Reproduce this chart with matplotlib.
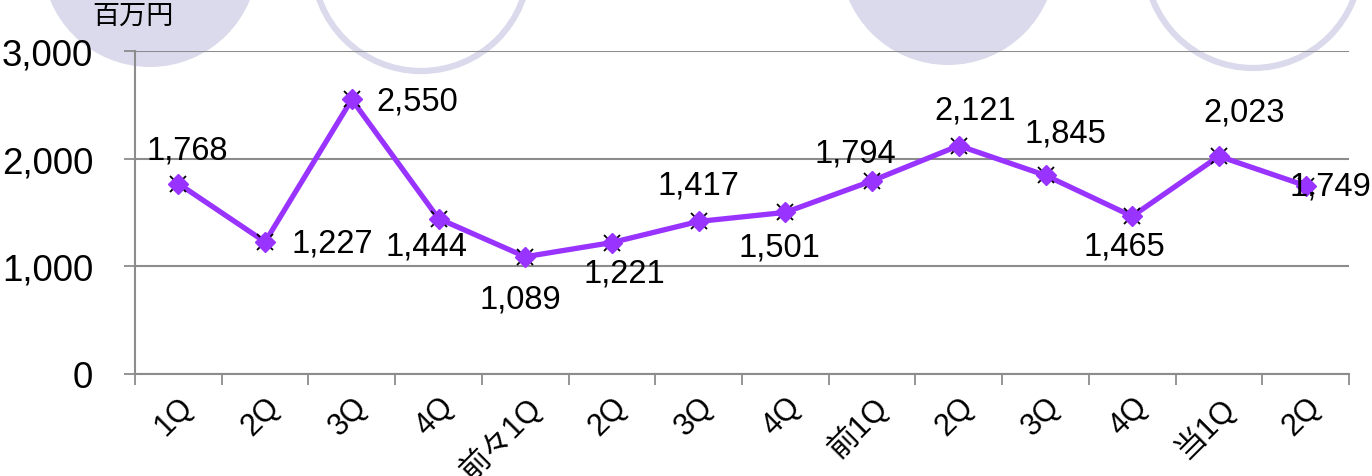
import matplotlib
matplotlib.use("Agg")
import matplotlib.pyplot as plt
from matplotlib.patches import Ellipse
from matplotlib.ticker import FuncFormatter

plt.rcParams["font.family"] = ["Liberation Sans", "Noto Sans CJK JP", "DejaVu Sans"]

# quarterly figures, million yen
quarters = ["1Q", "2Q", "3Q", "4Q", "前々1Q", "2Q", "3Q", "4Q",
            "前1Q", "2Q", "3Q", "4Q", "当1Q", "2Q"]
values = [1768, 1227, 2550, 1444, 1089, 1221, 1417, 1501,
          1794, 2121, 1845, 1465, 2023, 1749]

# label offsets from each point, in pixels
label_offsets = [(9, 34), (67, -1), (65, -2), (-12, -27), (-5, -42),
                 (12, -30), (0, 36), (-6, -35), (-17, 28), (16, 36),
                 (20, 42), (-8, -30), (25, 44), (25, 0)]

W, H = 1372, 477
purple = "#9933ff"
lavender = "#dbd9ec"
grid_gray = "#8c8c8c"

fig = plt.figure(figsize=(W / 100, H / 100), dpi=100)

# decorative circles along the top edge
for cx, cy, filled in [(150, -40, True), (421, -36, False),
                       (948, -42, True), (1253, -39, False)]:
    r = 108
    e = Ellipse((cx / W, 1 - cy / H), 2 * r / W, 2 * r / H,
                transform=fig.transFigure, zorder=0,
                facecolor=lavender if filled else "none",
                edgecolor=lavender, linewidth=0 if filled else 4.5)
    fig.add_artist(e)

ax = fig.add_axes([135 / W, 1 - 375 / H, (1349 - 135) / W, (375 - 52) / H])
ax.patch.set_alpha(0)

x = list(range(len(values)))
ax.plot(x, values, color=purple, linewidth=3.8, zorder=3)
ax.plot(x, values, linestyle="none", marker="x", markersize=12,
        markeredgecolor="black", markeredgewidth=1.3, zorder=4)
ax.plot(x, values, linestyle="none", marker="D", markersize=10,
        markerfacecolor=purple, markeredgecolor=purple, zorder=5)

for xi, v, (dx, dy) in zip(x, values, label_offsets):
    ax.annotate(f"{v:,}", (xi, v), xytext=(dx, dy), textcoords="offset pixels",
                ha="center", va="center", fontsize=23.5, color="black", zorder=6,
                annotation_clip=False)

ax.set_xlim(-0.5, len(values) - 0.5)
ax.set_ylim(0, 3000)
ax.set_yticks([0, 1000, 2000, 3000])
ax.yaxis.set_major_formatter(FuncFormatter(lambda v, _: f"{int(v):,}"))
ax.tick_params(axis="y", direction="out", length=8, width=1.3, color=grid_gray,
               labelsize=26.5, pad=22)
ax.grid(axis="y", color=grid_gray, linewidth=1.5)
ax.set_axisbelow(True)

ax.set_xticks(x)
ax.set_xticklabels(quarters, rotation=45, ha="right", va="top",
                   rotation_mode="anchor", fontsize=22)
ax.set_xticks([i - 0.5 for i in range(len(values) + 1)], minor=True)
ax.tick_params(axis="x", which="major", length=0, pad=12)
ax.tick_params(axis="x", which="minor", direction="out", length=8,
               width=1.3, color=grid_gray)

for side in ["top", "right"]:
    ax.spines[side].set_visible(False)
for side in ["left", "bottom"]:
    ax.spines[side].set_color(grid_gray)
    ax.spines[side].set_linewidth(1.5)

fig.text(92 / W, 1 - 17 / H, "百万円", fontsize=19.5, ha="left", va="center")

fig.savefig("out.png", dpi=100)
